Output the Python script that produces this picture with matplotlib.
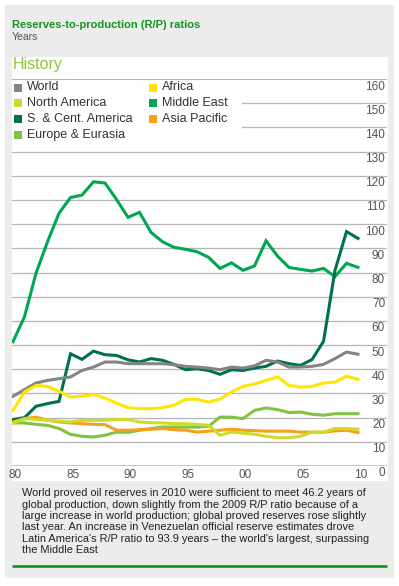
import matplotlib
matplotlib.use('Agg')
import matplotlib.pyplot as plt
import matplotlib.transforms as mtransforms
from matplotlib.patches import Rectangle

plt.rcParams['font.family'] = ['Liberation Sans', 'DejaVu Sans']

# Данные: R/P, лет
years = list(range(1980, 2011))

world = [28.8, 31.6, 34.3, 35.4, 36.1, 36.8, 39.5, 40.9, 43.0, 43.0, 42.3,
         42.3, 42.3, 42.3, 41.9, 41.2, 40.9, 40.5, 39.8, 40.9, 40.5,
         41.4, 43.7, 43.0, 40.9, 40.9, 41.2, 42.0, 44.4, 47.1, 46.2]
north_america = [17.8, 19.6, 19.3, 18.9, 18.6, 18.2, 18.9, 18.9, 18.9, 19.2, 19.2,
                 18.2, 17.9, 17.8, 17.5, 17.5, 17.2, 16.8, 12.7, 14.0, 13.6,
                 13.1, 12.3, 11.7, 11.7, 12.3, 14.0, 14.0, 15.5, 15.5, 15.2]
sc_america = [19.2, 20.0, 24.7, 25.8, 26.7, 46.4, 44.1, 47.5, 46.0, 45.7, 43.9,
              43.0, 44.4, 43.7, 42.0, 39.8, 40.2, 39.5, 37.9, 39.8, 39.5,
              40.5, 41.2, 43.4, 42.3, 41.6, 44.0, 51.5, 80.9, 96.9, 94.1]
europe = [17.8, 17.8, 17.2, 16.8, 15.5, 13.1, 12.3, 12.0, 12.7, 14.0, 13.9,
          14.8, 15.5, 16.1, 16.1, 16.1, 16.1, 16.4, 20.2, 20.2, 19.6,
          23.0, 24.0, 23.3, 22.1, 22.3, 21.4, 21.0, 21.6, 21.6, 21.6]
africa = [23.0, 30.6, 33.3, 32.9, 30.9, 28.5, 28.9, 29.6, 28.1, 26.0, 24.1,
          23.7, 23.7, 24.1, 25.1, 27.6, 27.6, 26.4, 27.6, 30.6, 32.9,
          33.9, 35.4, 36.8, 33.3, 32.6, 32.9, 34.3, 34.7, 37.1, 35.8]
middle_east = [51.4, 61.7, 79.7, 92.7, 104.5, 111.0, 112.0, 117.5, 117.0, 110.2, 102.8,
               104.9, 96.6, 92.7, 90.4, 89.6, 88.6, 86.3, 81.7, 84.0, 80.9,
               82.7, 93.1, 86.8, 82.1, 81.3, 80.6, 81.7, 78.3, 83.8, 82.1]
asia_pacific = [18.2, 19.6, 20.2, 18.9, 18.2, 17.8, 17.5, 17.2, 17.1, 14.8, 14.8,
                15.0, 15.2, 15.5, 15.0, 14.8, 14.0, 14.4, 14.8, 15.2, 14.8,
                14.6, 14.4, 14.4, 14.4, 14.0, 14.0, 14.0, 14.5, 14.8, 13.8]

xtick_years = [1980, 1985, 1990, 1995, 2000, 2005, 2010]
xtick_labels = ['80', '85', '90', '95', '00', '05', '10']
ytick_values = list(range(0, 161, 10))

C_WORLD = '#848484'
C_NA = '#cddc29'
C_SCA = '#00704f'
C_EU = '#80c342'
C_AF = '#ffe500'
C_ME = '#00a651'
C_AP = '#f7a11a'

W, H = 399, 586
fig = plt.figure(figsize=(W / 100, H / 100), dpi=100)

# фон в пикселях
bg = fig.add_axes([0, 0, 1, 1])
bg.set_xlim(0, W)
bg.set_ylim(H, 0)
bg.axis('off')
bg.add_patch(Rectangle((5, 5), 389, 573, color='#ececec', lw=0))
bg.add_patch(Rectangle((12, 57), 376, 424, color='white', lw=0))

bg.text(12, 25, 'Reserves-to-production (R/P) ratios', fontsize=8, fontweight='bold',
        color='#13951e', va='center')
bg.text(12, 36.5, 'Years', fontsize=7.5, color='#555555', va='center')
bg.text(13, 65, 'History', fontsize=11.5, color='#8cc63f', va='center')

# легенда
legend_items = [('World', C_WORLD), ('North America', C_NA),
                ('S. & Cent. America', C_SCA), ('Europe & Eurasia', C_EU),
                ('Africa', C_AF), ('Middle East', C_ME), ('Asia Pacific', C_AP)]
for i, (name, col) in enumerate(legend_items):
    cx = 14 if i < 4 else 148.5
    cy = 87.5 + 15.8 * (i % 4)
    bg.add_patch(Rectangle((cx, cy - 4), 8, 8, color=col, lw=0))
    bg.text(cx + 13, cy, name, fontsize=9, color='#333333', va='center')

# текст внизу
note = ['World proved oil reserves in 2010 were sufficient to meet 46.2 years of',
        'global production, down slightly from the 2009 R/P ratio because of a',
        'large increase in world production; global proved reserves rose slightly',
        'last year. An increase in Venezuelan official reserve estimates drove',
        "Latin America's R/P ratio to 93.9 years \u2013 the world's largest, surpassing",
        'the Middle East']
for i, line in enumerate(note):
    bg.text(22.5, 493.5 + 11.3 * i, line, fontsize=7.95, color='#222222', va='center')
bg.plot([12, 387], [566, 566], color='#0a8a12', lw=1.8, solid_capstyle='butt')

# график
left, right, top, bottom = 12, 387, 79, 466
ax = fig.add_axes([left / W, 1 - bottom / H, (right - left) / W, (bottom - top) / H])
ax.set_facecolor('none')
px_per_year = 11.5
ax.set_xlim(1980 - 1 / px_per_year, 1980 + (right - 13) / px_per_year)
ax.set_ylim(0, 160)
for s in ax.spines.values():
    s.set_visible(False)

for v in ytick_values:
    if v == 0:
        ax.axhline(v, color='#b5b5b5', lw=1.8, zorder=1)
    elif v == 160:
        ax.axhline(v, color='#b5b5b5', lw=1.5, zorder=1)
    elif v >= 140:
        ax.axhline(v, xmin=(242 - left) / (right - left), color='#b5b5b5', lw=0.9, zorder=1)
    else:
        ax.axhline(v, color='#b5b5b5', lw=0.9, zorder=1)
    ax.text(0.995, v, str(v), transform=mtransforms.offset_copy(
        ax.get_yaxis_transform(), fig=fig, x=0, y=-7.5, units='dots'),
        ha='right', va='center', fontsize=8.5, color='#555555')

series = [(middle_east, C_ME), (sc_america, C_SCA), (world, C_WORLD),
          (africa, C_AF), (europe, C_EU), (asia_pacific, C_AP), (north_america, C_NA)]
for vals, col in series:
    ax.plot(years, vals, color=col, lw=2.2, solid_joinstyle='miter', zorder=3)

ax.set_yticks([])
ax.set_xticks(xtick_years)
ax.set_xticklabels(xtick_labels, fontsize=8.5, color='#555555')
ax.tick_params(axis='x', length=0, pad=2.5)
for lab in ax.get_xticklabels():
    lab.set_transform(lab.get_transform() + mtransforms.ScaledTranslation(0.025, 0, fig.dpi_scale_trans))

fig.savefig('out.png', dpi=100)
